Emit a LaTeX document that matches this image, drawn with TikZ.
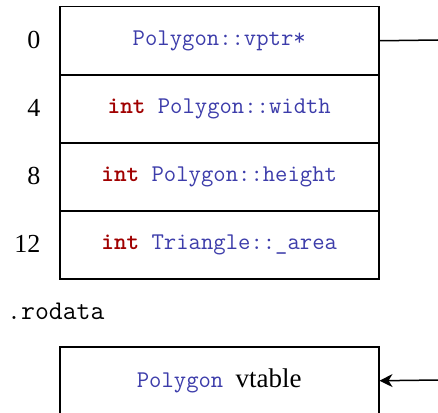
\documentclass[tikz,border=0pt]{standalone}
\usepackage{fontspec}
\setmainfont{Liberation Serif}
\usetikzlibrary{arrows.meta}
\definecolor{ident}{RGB}{60,60,170}
\definecolor{kw}{RGB}{160,0,0}
\newcommand{\kwd}[1]{\textcolor{kw}{\bfseries #1}}
\newcommand{\idn}[1]{\textcolor{ident}{#1}}
\begin{document}
\begin{tikzpicture}[x=1pt,y=-1pt,
  cell/.style={draw,line width=1.5pt,minimum width=319pt,minimum height=68pt,
    inner sep=0pt,anchor=north west,font=\fontsize{24}{26}\selectfont\ttfamily},
  offs/.style={anchor=east,font=\fontsize{26}{28}\selectfont},
  link/.style={line width=1.5pt}]
\useasboundingbox (0,0) rectangle (438,412);
\clip (0,0) rectangle (438,412);
% object layout
\node[cell] (vptr)   at (59,6)   {\idn{Polygon::vptr*}};
\node[cell] (width)  at (59,74)  {\kwd{int} \idn{Polygon::width}};
\node[cell] (height) at (59,142) {\kwd{int} \idn{Polygon::height}};
\node[cell] (area)   at (59,210) {\kwd{int} \idn{Triangle::\_area}};
% byte offsets
\node[offs] (o0)  at (44,40)  {0};
\node[offs] (o4)  at (44,108) {4};
\node[offs] (o8)  at (44,176) {8};
\node[offs] (o12) at (44,244) {12};
% read-only data section
\node[anchor=base west,inner sep=0pt,font=\fontsize{27}{29}\selectfont\ttfamily] (ro) at (7,319) {.rodata};
\node[cell] (vtab) at (59,346) {\idn{Polygon} {\rmfamily\fontsize{27}{29}\selectfont vtable}};
% pointer to the vtable
\coordinate (vout) at (438,40);
\coordinate (vin)  at (438,380);
\draw[link] (vptr.east) -- (vout);
\draw[link,-{Stealth[length=13pt,width=13pt,inset=4pt]}] (vin) -- (vtab.east);
\end{tikzpicture}
\end{document}
